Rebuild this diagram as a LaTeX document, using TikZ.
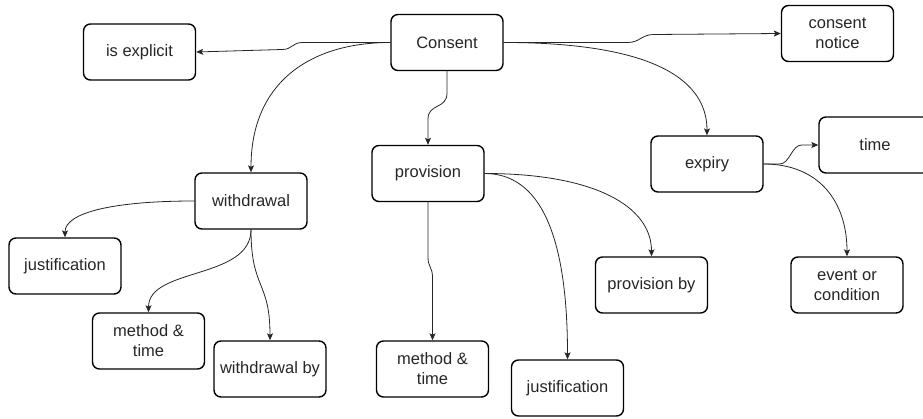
\documentclass[tikz,border=0pt]{standalone}
\usepackage{fontspec}
\setmainfont{Liberation Sans}
\usetikzlibrary{arrows.meta}

\begin{document}
\begin{tikzpicture}[x=1pt,y=-1pt,
	box/.style={draw,line width=1.4pt,rounded corners=7pt,minimum width=112pt,minimum height=56pt,align=center,text=black!85,font=\fontsize{16.5}{20}\selectfont},
	link/.style={->,>={Stealth[length=7pt,width=6pt,inset=1.5pt]},line width=0.8pt,black!85}]
	\useasboundingbox (0,0) rectangle (923,419);
	\path (447,42.5) node[box] (consent) {Consent}
	(139.5,52) node[box] (explicit) {is explicit}
	(837.5,33.5) node[box] (notice) {consent\\notice}
	(428,173.5) node[box] (provision) {provision}
	(251,201) node[box] (withdrawal) {withdrawal}
	(707,164) node[box] (expiry) {expiry}
	(875,145) node[box] (time) {time}
	(65,266) node[box] (wjust) {justification}
	(148.5,341) node[box] (wmethod) {method \&\\time}
	(270,369) node[box] (wby) {withdrawal by}
	(432.5,369) node[box] (pmethod) {method \&\\time}
	(567.5,388) node[box] (pjust) {justification}
	(651.5,285) node[box] (pby) {provision by}
	(847,285) node[box] (event) {event or\\condition};
	% from consent
	\draw[link] (consent.west) -- ++(-88,0) .. controls +(-10,0) and +(10,0) .. ++(-20,7) -- (explicit.east);
	\draw[link] (consent.west) .. controls +(-80,0) and +(0,-90) .. (withdrawal.north);
	\draw[link] (consent.south) -- ++(0,22) .. controls +(0,16) and +(0,-16) .. ++(-19,26) -- (provision.north);
	\draw[link] (consent.east) -- ++(124,0) .. controls +(12,0) and +(-12,0) .. ++(26,-8) -- (notice.west);
	\draw[link] (consent.east) .. controls +(140,0) and +(0,-60) .. (expiry.north);
	% from withdrawal
	\draw[link] (withdrawal.west) .. controls +(-80,0) and +(0,-25) .. (wjust.north);
	\draw[link] (withdrawal.south) .. controls +(0,50) and +(0,-45) .. (wmethod.north);
	\draw[link] (withdrawal.south) .. controls +(0,60) and +(0,-60) .. (wby.north);
	% from provision
	\draw[link] (provision.south) -- ++(0,55) .. controls +(0,10) and +(0,-10) .. ++(4.5,20) -- (pmethod.north);
	\draw[link] (provision.east) .. controls +(55,0) and +(0,-125) .. (pjust.north);
	\draw[link] (provision.east) .. controls +(110,0) and +(0,-50) .. (pby.north);
	% from expiry
	\draw[link] (expiry.east) -- ++(16,0) .. controls +(10,0) and +(-10,0) .. ++(22,-19) -- (time.west);
	\draw[link] (expiry.east) .. controls +(55,0) and +(0,-55) .. (event.north);
\end{tikzpicture}
\end{document}
